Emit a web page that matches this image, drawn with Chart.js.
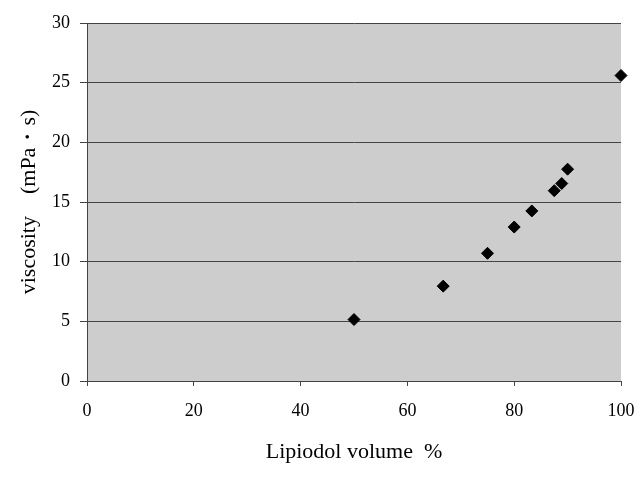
<!DOCTYPE html>
<html lang="en">
<head>
  <meta charset="utf-8">
  <title>Viscosity vs Lipiodol volume</title>
  <script src="https://cdn.jsdelivr.net/npm/chart.js"></script>
  <style>
    html, body { margin: 0; padding: 0; background: #fff; }
    #wrap { width: 640px; height: 478px; }
  </style>
</head>
<body>
  <div id="wrap"><canvas id="myChart" width="640" height="478"></canvas></div>
  <script>
    // data
    var lipiodol = [50, 66.7, 75, 80, 83.3, 87.5, 88.9, 90, 100];
    var viscosity = [5.15, 7.95, 10.7, 12.9, 14.25, 15.95, 16.55, 17.75, 25.6];
    var xTicks = [0, 20, 40, 60, 80, 100];
    var yTicks = [0, 5, 10, 15, 20, 25, 30];

    var points = lipiodol.map(function (v, i) { return { x: v, y: viscosity[i] }; });

    var plotBg = {
      id: 'plotBg',
      beforeDraw: function (chart) {
        var a = chart.chartArea, c = chart.ctx;
        c.save();
        c.fillStyle = '#cdcdcd';
        c.fillRect(a.left, a.top, a.right - a.left, a.bottom - a.top);
        c.restore();
      }
    };

    var ctx = document.getElementById('myChart').getContext('2d');
    var myChart = new Chart(ctx, {
      type: 'scatter',
      data: {
        datasets: [{
          data: points,
          pointStyle: 'rectRot',
          pointRadius: 6,
          backgroundColor: '#000',
          borderColor: '#000',
          clip: false
        }]
      },
      options: {
        responsive: false,
        animation: false,
        layout: { padding: { top: 23, right: 19, left: 0, bottom: 0 } },
        plugins: { legend: { display: false }, tooltip: { enabled: false } },
        scales: {
          x: {
            min: 0, max: 100,
            afterBuildTicks: function (s) { s.ticks = xTicks.map(function (v) { return { value: v }; }); },
            afterFit: function (s) { s.height = 97; s.paddingRight = 0; s.paddingLeft = 0; },
            grid: { drawOnChartArea: false, tickLength: 5, color: '#444' },
            border: { color: '#444' },
            ticks: { color: '#000', padding: 14, font: { family: 'Liberation Serif', size: 18 } },
            title: { display: true, text: 'Lipiodol volume  %', color: '#000', padding: { bottom: 13 },
              font: { family: 'Liberation Serif', size: 22 } }
          },
          y: {
            min: 0, max: 30,
            afterBuildTicks: function (s) { s.ticks = yTicks.map(function (v) { return { value: v }; }); },
            afterFit: function (s) { s.width = 87; s.paddingTop = 0; s.paddingBottom = 0; },
            grid: { color: '#444', tickLength: 7 },
            border: { color: '#444' },
            ticks: { color: '#000', padding: 10, font: { family: 'Liberation Serif', size: 18 } },
            title: { display: true, text: 'viscosity　(mPa・s)', color: '#000', padding: { top: 16 },
              font: { family: 'Liberation Serif', size: 22 } }
          }
        }
      },
      plugins: [plotBg]
    });
  </script>
</body>
</html>
